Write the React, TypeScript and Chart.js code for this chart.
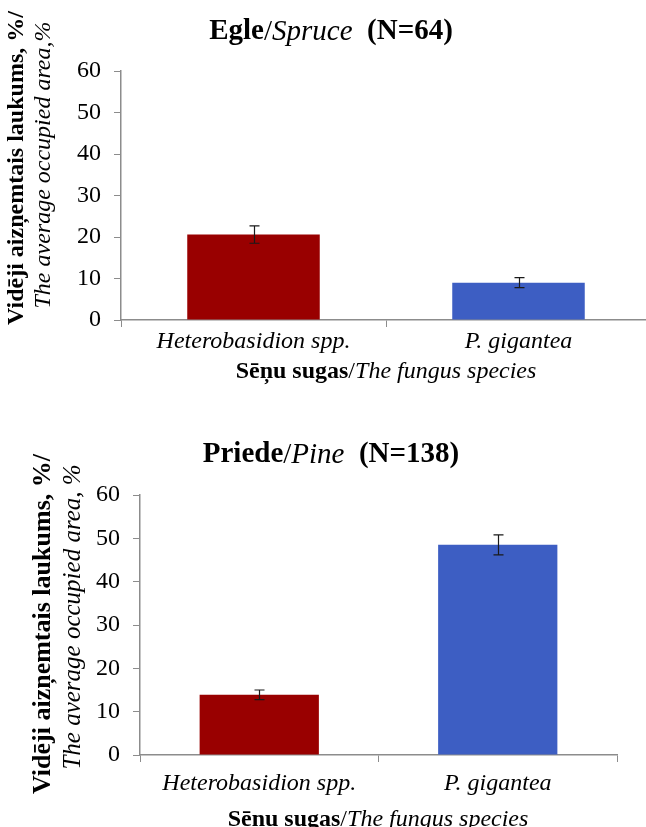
import React, { useEffect, useRef } from 'react';
import { Chart, registerables } from 'chart.js';

Chart.register(...registerables);

const categories = ['Heterobasidion spp.', 'P. gigantea'];
const spruceValues = [20.6, 9.0];
const spruceErrors = [2.1, 1.2];
const pineValues = [13.9, 48.5];
const pineErrors = [1.1, 2.3];
const barColors = ['#990000', '#3D5EC3'];
const yMin = 0;
const yMax = 60;
const yStep = 10;

const SERIF = '"Liberation Serif", "Times New Roman", serif';

type Run = { t: string; f: string };

const spruceTitle: Run[] = [
  { t: 'Egle', f: `bold 29px ${SERIF}` },
  { t: '/', f: `29px ${SERIF}` },
  { t: 'Spruce', f: `italic 29px ${SERIF}` },
  { t: '  (N=64)', f: `bold 29px ${SERIF}` },
];
const pineTitle: Run[] = [
  { t: 'Priede', f: `bold 29px ${SERIF}` },
  { t: '/', f: `29px ${SERIF}` },
  { t: 'Pine', f: `italic 29px ${SERIF}` },
  { t: '  (N=138)', f: `bold 29px ${SERIF}` },
];
const xTitle = (size: number): Run[] => [
  { t: 'Sēņu sugas', f: `bold ${size}px ${SERIF}` },
  { t: '/', f: `${size}px ${SERIF}` },
  { t: 'The fungus species', f: `italic ${size}px ${SERIF}` },
];

function drawRuns(ctx: CanvasRenderingContext2D, runs: Run[], cx: number, cy: number) {
  let total = 0;
  const widths = runs.map((r) => {
    ctx.font = r.f;
    const w = ctx.measureText(r.t).width;
    total += w;
    return w;
  });
  let x = cx - total / 2;
  ctx.textBaseline = 'middle';
  ctx.textAlign = 'left';
  ctx.fillStyle = '#000';
  runs.forEach((r, i) => {
    ctx.font = r.f;
    ctx.fillText(r.t, x, cy);
    x += widths[i];
  });
}

type PanelSpec = {
  width: number;
  height: number;
  top: number;
  values: number[];
  errors: number[];
  title: Run[];
  titlePos: [number, number];
  yTitleBold: string;
  yTitleItalic: string;
  yBoldPos: [number, number];
  yItalicPos: [number, number];
  yBoldSize: number;
  yItalicSize: number;
  xTitleRuns: Run[];
  xTitlePos: [number, number];
  area: { left: number; right: number; top: number; bottom: number };
  tickFont: number;
  catFont: number;
  catPad: number;
};

function Panel({ spec }: { spec: PanelSpec }) {
  const ref = useRef<HTMLCanvasElement | null>(null);
  useEffect(() => {
    if (!ref.current) return;
    const s = spec;
    const overlay = {
      id: 'overlay',
      afterDatasetsDraw(chart: any) {
        const ctx = chart.ctx as CanvasRenderingContext2D;
        const yScale = chart.scales.y;
        const meta = chart.getDatasetMeta(0);
        ctx.save();
        ctx.strokeStyle = '#1a1a1a';
        ctx.lineWidth = 1.2;
        meta.data.forEach((bar: any, i: number) => {
          const v = s.values[i];
          const e = s.errors[i];
          const x = Math.round(bar.x) + 0.5;
          const yT = yScale.getPixelForValue(v + e);
          const yB = yScale.getPixelForValue(v - e);
          ctx.beginPath();
          ctx.moveTo(x, yT);
          ctx.lineTo(x, yB);
          ctx.moveTo(x - 5, yT);
          ctx.lineTo(x + 5, yT);
          ctx.moveTo(x - 5, yB);
          ctx.lineTo(x + 5, yB);
          ctx.stroke();
        });
        ctx.restore();
      },
      afterDraw(chart: any) {
        const ctx = chart.ctx as CanvasRenderingContext2D;
        ctx.save();
        drawRuns(ctx, s.title, s.titlePos[0], s.titlePos[1]);
        drawRuns(ctx, s.xTitleRuns, s.xTitlePos[0], s.xTitlePos[1]);
        ctx.save();
        ctx.translate(s.yBoldPos[0], s.yBoldPos[1]);
        ctx.rotate(-Math.PI / 2);
        drawRuns(ctx, [{ t: s.yTitleBold, f: `bold ${s.yBoldSize}px ${SERIF}` }], 0, 0);
        ctx.restore();
        ctx.save();
        ctx.translate(s.yItalicPos[0], s.yItalicPos[1]);
        ctx.rotate(-Math.PI / 2);
        drawRuns(ctx, [{ t: s.yTitleItalic, f: `italic ${s.yItalicSize}px ${SERIF}` }], 0, 0);
        ctx.restore();
        ctx.restore();
      },
    };
    const chart = new Chart(ref.current, {
      type: 'bar',
      data: {
        labels: categories,
        datasets: [
          {
            data: s.values,
            backgroundColor: barColors,
            borderWidth: 0,
            categoryPercentage: 1,
            barPercentage: 0.5,
          },
        ],
      },
      options: {
        responsive: false,
        animation: false,
        layout: {
          padding: {
            left: 0,
            top: s.area.top,
            right: s.width - s.area.right,
            bottom: 0,
          },
        },
        plugins: {
          legend: { display: false },
          title: { display: false },
          tooltip: { enabled: false },
        },
        scales: {
          x: {
            afterFit: (sc: any) => {
              sc.height = s.height - s.area.bottom;
            },
            grid: {
              display: true,
              offset: true,
              drawOnChartArea: false,
              drawTicks: true,
              tickLength: 7,
              color: '#8c8c8c',
              lineWidth: 1,
            },
            border: { display: true, color: '#8c8c8c', width: 1.5 },
            ticks: {
              color: '#000',
              padding: s.catPad,
              font: { family: SERIF, size: s.catFont, style: 'italic' },
              maxRotation: 0,
            },
          },
          y: {
            min: yMin,
            max: yMax,
            afterFit: (sc: any) => {
              sc.width = s.area.left;
            },
            grid: {
              display: true,
              drawOnChartArea: false,
              drawTicks: true,
              tickLength: 7,
              color: '#8c8c8c',
              lineWidth: 1,
            },
            border: { display: true, color: '#8c8c8c', width: 1.5 },
            ticks: {
              stepSize: yStep,
              color: '#000',
              padding: 13,
              font: { family: SERIF, size: s.tickFont },
            },
          },
        },
      },
      plugins: [overlay],
    });
    return () => chart.destroy();
  }, [spec]);
  return (
    <canvas
      ref={ref}
      width={spec.width}
      height={spec.height}
      style={{ position: 'absolute', left: 0, top: spec.top, width: spec.width, height: spec.height }}
    />
  );
}

const spruceSpec: PanelSpec = {
  width: 662,
  height: 400,
  top: 0,
  values: spruceValues,
  errors: spruceErrors,
  title: spruceTitle,
  titlePos: [331, 32],
  yTitleBold: 'Vidēji aizņemtais laukums, %/',
  yTitleItalic: 'The average occupied area,%',
  yBoldPos: [17, 168],
  yItalicPos: [44, 165],
  yBoldSize: 24,
  yItalicSize: 24,
  xTitleRuns: xTitle(24),
  xTitlePos: [386, 372],
  area: { left: 121, right: 651, top: 71, bottom: 320 },
  tickFont: 24,
  catFont: 24,
  catPad: 0,
};

const pineSpec: PanelSpec = {
  width: 662,
  height: 417,
  top: 410,
  values: pineValues,
  errors: pineErrors,
  title: pineTitle,
  titlePos: [331, 45],
  yTitleBold: 'Vidēji aizņemtais laukums, %/',
  yTitleItalic: 'The average occupied area, %',
  yBoldPos: [43, 214],
  yItalicPos: [73, 207],
  yBoldSize: 26,
  yItalicSize: 25,
  xTitleRuns: xTitle(24),
  xTitlePos: [378, 410],
  area: { left: 140, right: 617, top: 85, bottom: 345 },
  tickFont: 24,
  catFont: 24,
  catPad: 7,
};

export default function App() {
  return (
    <div
      style={{
        position: 'absolute',
        left: 0,
        top: 0,
        width: 646,
        height: 827,
        overflow: 'hidden',
        background: '#fff',
      }}
    >
      <Panel spec={spruceSpec} />
      <Panel spec={pineSpec} />
    </div>
  );
}
